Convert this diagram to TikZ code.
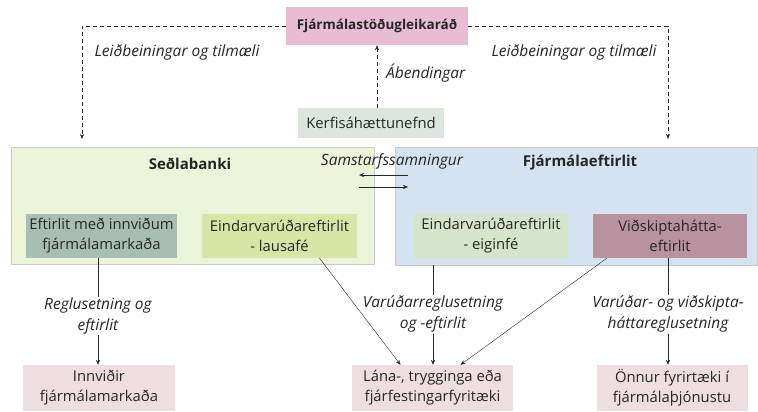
\documentclass[tikz,border=0pt]{standalone}
\usepackage{fontspec}
\setmainfont{Open Sans}
\usetikzlibrary{arrows.meta,positioning}
\definecolor{councilpink}{HTML}{E8BDD3}
\definecolor{riskgreen}{HTML}{DCE6DF}
\definecolor{bankfill}{HTML}{EBF3D9}
\definecolor{fmefill}{HTML}{D5E3F0}
\definecolor{panelline}{HTML}{C8CCC8}
\definecolor{infragray}{HTML}{A8BEB4}
\definecolor{liquidgreen}{HTML}{D7E5A7}
\definecolor{capitalgreen}{HTML}{D4E5C9}
\definecolor{conductmauve}{HTML}{B8929F}
\definecolor{targetpink}{HTML}{EEDEE2}
\definecolor{inkgray}{HTML}{262626}
\tikzset{
  box/.style={align=center, inner sep=1pt, font=\fontsize{14.8}{20}\selectfont, text=inkgray},
  subbox/.style={box, minimum width=153pt, minimum height=44pt},
  target/.style={box, fill=targetpink, minimum height=46pt},
  panel/.style={draw=panelline, anchor=north west},
  title/.style={font=\bfseries\fontsize{15}{18}\selectfont, text=inkgray},
  note/.style={align=center, inner sep=1pt, font=\itshape\fontsize{15.5}{21}\selectfont, text=inkgray},
  flow/.style={-{Stealth[length=5pt,width=4pt]}, thin, draw=inkgray},
  dashflow/.style={flow, dash pattern=on 4pt off 3pt}
}
\begin{document}
\begin{tikzpicture}[x=1pt, y=-1pt]
\useasboundingbox (0,0) rectangle (758,412);
% panels
\node[panel, fill=bankfill, minimum width=363pt, minimum height=117pt] (seb) at (11,147) {};
\node[panel, fill=fmefill, minimum width=362pt, minimum height=118pt] (fme) at (395,147) {};
\node[title] (sebtitle) at (190,164) {Seðlabanki};
\node[title] (fmetitle) at (580,163) {Fjármálaeftirlit};
% top
\node[box, fill=councilpink, font=\bfseries\fontsize{13.5}{16}\selectfont, minimum width=182pt, minimum height=38pt] (fsr) at (377,26) {Fjármálastöðugleikaráð};
\node[box, fill=riskgreen, minimum width=146pt, minimum height=30pt] (kerf) at (371,123) {Kerfisáhættunefnd};
\coordinate (sebin) at (82,139);
\coordinate (fmein) at (668,139);
\draw[dashflow] (fsr.west) -| (sebin);
\draw[dashflow] (fsr.east) -| (fmein);
\draw[dashflow] (kerf.north -| fsr) -- (fsr.south);
\node[note] (guideleft) at (177,52) {Leiðbeiningar og tilmæli};
\node[note] (guideright) at (574,52) {Leiðbeiningar og tilmæli};
\node[note, anchor=west] (hint) at (385,73) {Ábendingar};
% cooperation
\node[note] (coop) at (392,161) {Samstarfssamningur};
\coordinate (coopright) at (408,175);
\coordinate (coopleft) at (359,175);
\draw[flow] (coopright) -- (coopleft);
\draw[flow] ([yshift=-12pt]coopleft) -- ([yshift=-12pt]coopright);
% units
\node[subbox, fill=infragray, minimum width=151pt] (infra) at (101.5,236) {Eftirlit með innviðum\\fjármálamarkaða};
\node[subbox, fill=liquidgreen, minimum width=155pt] (liquid) at (279.5,236) {Eindarvarúðareftirlit\\- lausafé};
\node[subbox, fill=capitalgreen, minimum width=154pt] (capital) at (491,236) {Eindarvarúðareftirlit\\- eiginfé};
\node[subbox, fill=conductmauve, minimum width=154pt] (conduct) at (670,236) {Viðskiptahátta-\\eftirlit};
% supervised
\node[target, minimum width=152pt] (infratarget) at (99,388) {Innviðir\\fjármálamarkaða};
\node[target, minimum width=161pt] (lender) at (432.5,388) {Lána-, trygginga eða\\fjárfestingarfyritæki};
\node[target, minimum width=151pt] (other) at (672,388) {Önnur fyrirtæki í\\fjármálaþjónustu};
% rule labels
\node[note] (rules) at (98,316) {Reglusetning og\\eftirlit};
\node[note] (prudent) at (433,314) {Varúðarreglusetning\\og -eftirlit};
\node[note] (conductrules) at (668,314) {Varúðar- og viðskipta-\\háttareglusetning};
\draw[inkgray, thin] (rules.north |- infra.south) -- (rules.north);
\draw[flow] (rules.south) -- (rules.south |- infratarget.north);
\draw[inkgray, thin] (prudent.north |- fme.south) -- (prudent.north);
\draw[flow] (prudent.south) -- (prudent.south |- lender.north);
\draw[inkgray, thin] (conductrules.north |- conduct.south) -- (conductrules.north);
\draw[flow] (conductrules.south) -- (conductrules.south |- other.north);
\draw[flow] ([xshift=40pt]liquid.south) -- ([xshift=-32pt]lender.north);
\draw[flow] ([xshift=14pt]conduct.south west) -- ([xshift=28pt]lender.north);
\end{tikzpicture}
\end{document}
